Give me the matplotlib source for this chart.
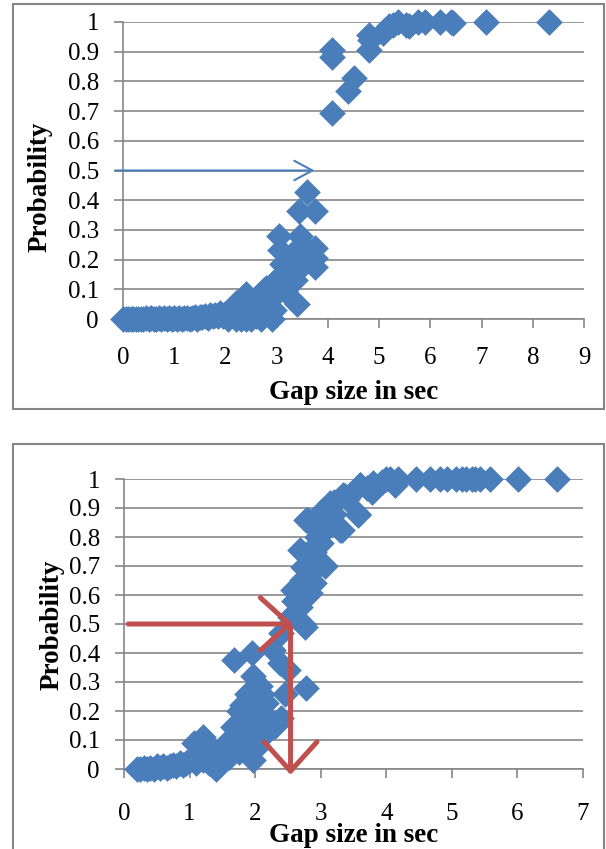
import matplotlib
matplotlib.use('Agg')
import matplotlib.pyplot as plt
import matplotlib.patches as patches
import numpy as np

# top chart: gap size (sec) vs probability
gap_top = [0.0, 0.05, 0.1, 0.15, 0.2, 0.25, 0.3, 0.35, 0.4, 0.45, 0.5, 0.55, 0.6, 0.65, 0.7, 0.75,
           0.8, 0.85, 0.9, 0.95, 1.0, 1.05, 1.1, 1.15, 1.2, 1.25, 1.3, 1.35, 1.4, 1.45, 1.5, 1.55,
           1.6, 1.65, 1.7, 1.75, 1.8, 1.85, 1.9, 1.95, 2.0, 2.05, 2.1, 2.2, 2.3, 2.4, 2.5, 2.6,
           2.7, 2.8, 2.9,
           2.1, 2.21, 2.3, 2.41, 2.5, 2.6, 2.67, 2.73, 2.8, 2.85, 2.93, 2.95, 3.0, 3.05,
           3.04, 3.06, 3.1, 3.12, 3.16, 3.2, 3.25, 3.29, 3.3, 3.35, 3.39, 3.4, 3.45, 3.45,
           3.43, 3.5, 3.58, 3.59, 3.43, 3.74, 3.74, 3.74, 3.74,
           4.08, 4.08, 4.08, 4.39, 4.51, 4.81, 4.81, 4.82, 5.07, 5.1, 5.2, 5.27, 5.37,
           5.53, 5.59, 5.76, 5.9, 6.18, 6.41, 6.45, 7.09, 8.31]
prob_top = [0.0, 0.0, 0.0, 0.0, 0.0, 0.0, 0.0, 0.0, 0.0, 0.002, 0.0, 0.002, 0.0, 0.0, 0.003, 0.0,
            0.003, 0.0, 0.002, 0.0, 0.003, 0.0, 0.004, 0.0, 0.004, 0.005, 0.0, 0.005, 0.006, 0.0, 0.007, 0.008,
            0.01, 0.005, 0.012, 0.01, 0.015, 0.01, 0.02, 0.01, 0.018, 0.0, 0.025, 0.0, 0.0, 0.0, 0.0, 0.01,
            0.0, 0.02, 0.0,
            0.03, 0.055, 0.04, 0.083, 0.05, 0.07, 0.061, 0.094, 0.105, 0.06, 0.094, 0.03, 0.1, 0.14,
            0.28, 0.234, 0.185, 0.14, 0.094, 0.16, 0.2, 0.218, 0.19, 0.13, 0.05, 0.2, 0.28, 0.196,
            0.365, 0.24, 0.24, 0.427, 0.17, 0.365, 0.24, 0.207, 0.174,
            0.905, 0.883, 0.694, 0.768, 0.812, 0.956, 0.905, 0.94, 0.962, 0.97, 0.986, 0.99, 1.0,
            0.99, 0.985, 1.0, 1.0, 1.0, 1.0, 0.995, 1.0, 1.0]

# bottom chart
gap_bot = [0.2, 0.25, 0.3, 0.35, 0.4, 0.45, 0.5, 0.55, 0.6, 0.65, 0.7, 0.75, 0.8, 0.85, 0.9, 0.95,
           1.0, 1.06, 1.1, 1.15, 1.21, 1.25, 1.3, 1.36, 1.4, 1.45, 1.5, 1.56, 1.6, 1.66, 1.67, 1.7,
           1.76, 1.8, 1.87, 1.87, 1.95, 1.97, 1.97, 2.02, 2.07, 2.1, 2.17, 2.22, 2.27, 2.38, 2.4,
           2.4, 2.45, 2.5, 2.53, 2.58, 2.68, 2.68, 2.71, 2.73, 2.73, 2.76, 2.78, 2.78, 2.81, 2.84,
           2.84, 2.89, 2.89, 2.94, 2.94, 2.99, 3.04, 3.06, 3.14, 3.14, 3.29, 3.32, 3.34, 3.37,
           3.57, 3.57, 3.6, 3.6, 3.78, 3.8, 3.93, 4.0, 4.05, 4.13, 4.18, 4.46, 4.66, 4.82, 4.92,
           5.07, 5.15, 5.22, 5.3, 5.36, 5.43, 5.58, 6.01, 6.6,
           1.2, 1.3, 1.6, 1.7, 1.75, 1.8, 1.85, 1.9, 2.0, 2.05, 2.1, 2.15, 2.3,
           2.6, 2.7, 2.8, 2.9, 2.95, 3.0, 3.05, 3.1, 3.2, 3.2, 3.4, 3.5, 3.7]
prob_bot = [0.0, 0.0, 0.005, 0.0, 0.005, 0.0, 0.01, 0.005, 0.01, 0.005, 0.01, 0.015, 0.01, 0.02, 0.015, 0.02,
            0.03, 0.09, 0.02, 0.05, 0.11, 0.06, 0.08, 0.066, 0.0, 0.05, 0.06, 0.09, 0.07, 0.145, 0.377, 0.1,
            0.2, 0.12, 0.26, 0.066, 0.4, 0.32, 0.032, 0.124, 0.285, 0.18, 0.227, 0.17, 0.41, 0.365, 0.175,
            0.468, 0.26, 0.34, 0.525, 0.617, 0.56, 0.755, 0.652, 0.5, 0.698, 0.49, 0.86, 0.28, 0.86, 0.63,
            0.606, 0.767, 0.64, 0.698, 0.87, 0.813, 0.893, 0.7, 0.905, 0.916, 0.825, 0.824, 0.945, 0.94,
            0.88, 0.876, 0.98, 0.98, 0.956, 0.985, 0.99, 1.0, 1.0, 0.98, 1.0, 1.0, 1.0, 1.0, 1.0,
            1.0, 1.0, 1.0, 1.0, 1.0, 1.0, 1.0, 1.0, 1.0,
            0.03, 0.02, 0.04, 0.15, 0.06, 0.22, 0.09, 0.17, 0.2, 0.08, 0.26, 0.12, 0.15,
            0.58, 0.62, 0.74, 0.75, 0.8, 0.78, 0.86, 0.83, 0.88, 0.92, 0.93, 0.96, 0.97]

yticks = [0, 0.1, 0.2, 0.3, 0.4, 0.5, 0.6, 0.7, 0.8, 0.9, 1.0]
ytick_labels = ['0', '0.1', '0.2', '0.3', '0.4', '0.5', '0.6', '0.7', '0.8', '0.9', '1']

blue = '#4A7EBB'
red = '#C0504D'
grey = '#868686'

plt.rcParams['font.family'] = ['Liberation Serif', 'DejaVu Serif']

W, H = 606, 849
fig = plt.figure(figsize=(W / 100, H / 100), dpi=100)


def box(x0, y0, x1, y1):
    fig.patches.append(patches.Rectangle((x0 / W, 1 - y1 / H), (x1 - x0) / W, (y1 - y0) / H,
                                         transform=fig.transFigure, fill=False,
                                         edgecolor=grey, lw=1.5))


def make_ax(left, right, top, bottom, xmax, gx, gy, ylab, xlab_y, xpad):
    ax = fig.add_axes([left / W, 1 - bottom / H, (right - left) / W, (bottom - top) / H])
    ax.scatter(gx, gy, marker='D', s=185, color=blue, linewidths=0, clip_on=False, zorder=3)
    ax.set_xlim(0, xmax)
    ax.set_ylim(0, 1)
    ax.set_xticks(range(xmax + 1))
    ax.set_yticks(yticks)
    ax.set_yticklabels(ytick_labels)
    ax.yaxis.grid(True, color=grey, lw=1.2)
    ax.set_axisbelow(True)
    for s in ['top', 'right']:
        ax.spines[s].set_visible(False)
    for s in ['left', 'bottom']:
        ax.spines[s].set_color(grey)
        ax.spines[s].set_linewidth(1.2)
    ax.tick_params(axis='both', colors=grey, width=1.2, length=6.3, labelcolor='black', labelsize=18)
    ax.tick_params(axis='x', pad=xpad)
    ax.tick_params(axis='y', pad=11)
    ax.set_ylabel('Probability', fontsize=19.5, fontweight='bold', va='center')
    ax.yaxis.set_label_coords(ylab[0] / W, 1 - ylab[1] / H, transform=fig.transFigure)
    ax.set_xlabel('Gap size in sec', fontsize=19.5, fontweight='bold', va='center')
    ax.xaxis.set_label_coords((left + right) / 2 / W, 1 - xlab_y / H, transform=fig.transFigure)
    return ax


box(13, 4, 604, 409)
box(13, 444, 604, 852)

ax1 = make_ax(123, 584, 22, 319, 9, gap_top, prob_top, (40, 187), 393, 14)
ax2 = make_ax(124, 583, 479, 769, 7, gap_bot, prob_bot, (52, 625), 836, 18)

# blue arrow at p = 0.5
a1 = patches.FancyArrowPatch((-0.15, 0.5), (3.74, 0.5), transform=ax1.transData,
                             arrowstyle='->,head_length=13,head_width=7', mutation_scale=1,
                             color=blue, lw=1.5, shrinkA=0, shrinkB=0, clip_on=False, zorder=4)
ax1.add_patch(a1)

# red arrows in bottom chart
a2 = patches.FancyArrowPatch((0.065, 0.5), (2.58, 0.5), transform=ax2.transData,
                             arrowstyle='->,head_length=21,head_width=19', mutation_scale=1,
                             color=red, lw=3.6, shrinkA=0, shrinkB=0, clip_on=False, zorder=5)
a3 = patches.FancyArrowPatch((2.54, 0.49), (2.54, -0.02), transform=ax2.transData,
                             arrowstyle='->,head_length=21,head_width=19', mutation_scale=1,
                             color=red, lw=3.6, shrinkA=0, shrinkB=0, clip_on=False, zorder=5)
ax2.add_patch(a2)
ax2.add_patch(a3)

plt.savefig('out.png', dpi=100)
